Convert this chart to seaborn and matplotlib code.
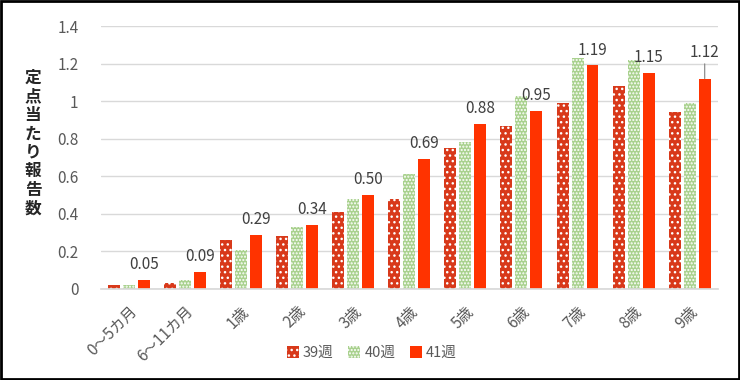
import pandas as pd
import numpy as np
import matplotlib
matplotlib.use("Agg")
import matplotlib.pyplot as plt
import seaborn as sns
from matplotlib.patches import Patch, Rectangle

ages = ["0～5カ月", "6～11カ月", "1歳", "2歳", "3歳", "4歳", "5歳", "6歳", "7歳", "8歳", "9歳"]
weeks = ["39週", "40週", "41週"]
w39 = [0.02, 0.03, 0.26, 0.28, 0.41, 0.48, 0.75, 0.87, 0.99, 1.08, 0.94]
w40 = [0.02, 0.05, 0.21, 0.33, 0.48, 0.61, 0.78, 1.03, 1.23, 1.22, 0.99]
w41 = [0.05, 0.09, 0.29, 0.34, 0.50, 0.69, 0.88, 0.95, 1.19, 1.15, 1.12]

df = pd.DataFrame({
    "age": ages * 3,
    "week": [weeks[0]] * 11 + [weeks[1]] * 11 + [weeks[2]] * 11,
    "value": w39 + w40 + w41,
})

sns.set_theme(style="white")
plt.rcParams["font.family"] = ["Noto Sans CJK JP", "DejaVu Sans"]
plt.rcParams["hatch.linewidth"] = 1.0

red = "#FF3300"
red39 = "#D8391A"
green = "#A9D18E"

fig = plt.figure(figsize=(7.4, 3.8), dpi=100)
ax = fig.add_axes([0.136, 0.2395, 0.834, 0.692])

sns.barplot(data=df, x="age", y="value", hue="week", order=ages, hue_order=weeks,
            palette=[red39, green, red], width=0.8, gap=0.2, ax=ax, legend=False)

# patterns
styles = [dict(fc=red39, ec="white", hatch="..."),
          dict(fc=green, ec="white", hatch="....."),
          dict(fc=red, ec=red, hatch=None)]
for cont, st in zip(ax.containers, styles):
    for bar in cont:
        bar.set_facecolor(st["fc"])
        bar.set_edgecolor(st["ec"])
        bar.set_hatch(st["hatch"])
        bar.set_linewidth(0)

# labels on 41週
for i, bar in enumerate(ax.containers[2]):
    v = w41[i]
    x = bar.get_x() + bar.get_width() / 2
    if i == len(w41) - 1:
        ax.annotate(f"{v:.2f}", (x, v), xytext=(0, 13), textcoords="offset points",
                    ha="center", va="bottom", fontsize=11, color="#404040",
                    arrowprops=dict(arrowstyle="-", color="#808080", lw=0.8, shrinkA=0, shrinkB=0))
    else:
        ax.annotate(f"{v:.2f}", (x, v), xytext=(0, 5), textcoords="offset points",
                    ha="center", va="bottom", fontsize=11, color="#404040")

ax.set_ylim(0, 1.4)
ax.set_xlim(-0.5, len(ages) - 0.5)
yt = [0, 0.2, 0.4, 0.6, 0.8, 1.0, 1.2, 1.4]
ax.set_yticks(yt)
ax.set_yticklabels(["0", "0.2", "0.4", "0.6", "0.8", "1", "1.2", "1.4"], fontsize=11, color="#595959")
ax.yaxis.grid(True, color="#D9D9D9", lw=1)
ax.set_axisbelow(True)
for s in ["left", "right", "top"]:
    ax.spines[s].set_visible(False)
ax.spines["bottom"].set_color("#D9D9D9")
ax.tick_params(axis="y", length=0, pad=16)
ax.tick_params(axis="x", length=0, pad=10)
ax.set_xticks(range(len(ages)))
ax.set_xticklabels(ages, rotation=45, ha="right", rotation_mode="anchor", fontsize=11, color="#595959")
ax.set_xlabel("")
ax.set_ylabel("")

fig.text(33 / 740, 1 - 143 / 380, "\n".join("定点当たり報告数"), ha="center", va="center",
         fontsize=12, fontweight="bold", linespacing=1.05, color="#262626")

handles = [Patch(facecolor=st["fc"], edgecolor=st["ec"], hatch=st["hatch"], lw=0) for st in styles]
fig.legend(handles, weeks, loc="center", bbox_to_anchor=(372 / 740, 1 - 353 / 380), ncol=3,
           frameon=False, fontsize=10.5, handlelength=0.8, handleheight=0.8,
           handletextpad=0.3, columnspacing=1.0, labelcolor="#595959")

fig.patches.append(Rectangle((0.002, 0.003), 0.996, 0.994, transform=fig.transFigure,
                             fill=False, ec="black", lw=2))

fig.savefig("out.png", dpi=100)
